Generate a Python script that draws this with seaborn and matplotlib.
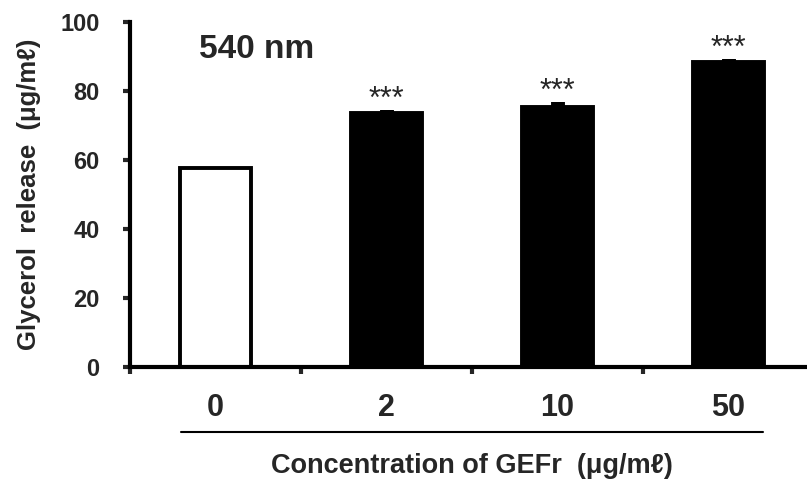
import numpy as np
import pandas as pd
import matplotlib
matplotlib.use("Agg")
import matplotlib.pyplot as plt
import matplotlib.transforms as mtransforms
import seaborn as sns

# data
conc_labels = ["0", "2", "10", "50"]
glycerol = [57.8, 73.6, 75.4, 88.4]
glycerol_err = [0.0, 0.9, 1.4, 0.9]
signif = ["", "***", "***", "***"]
bar_colors = ["white", "black", "black", "black"]

sns.set_style("white")
plt.rcParams["font.family"] = ["Liberation Sans", "DejaVu Sans"]

df = pd.DataFrame({"conc": conc_labels, "glycerol": glycerol})

fig = plt.figure(figsize=(8.07, 4.83), dpi=100)
ax = fig.add_axes([130 / 807, 116 / 483, 684 / 807, 345 / 483])

sns.barplot(data=df, x="conc", y="glycerol", hue="conc", palette=bar_colors,
            legend=False, width=0.42, edgecolor="black", linewidth=2.8,
            errorbar=None, ax=ax)

# upper-only error bars and significance marks
for i, (v, e, s) in enumerate(zip(glycerol, glycerol_err, signif)):
    if e > 0:
        ax.errorbar(i, v, yerr=[[0], [e]], fmt="none", ecolor="black",
                    elinewidth=10, capsize=0)
    if s:
        ax.text(i, v + e + 0.6, s, ha="center", va="baseline", fontsize=22)

ax.set_xlim(-0.5, 3.5)
ax.set_ylim(0, 100)
ax.set_yticks([0, 20, 40, 60, 80, 100])

for side in ["top", "right"]:
    ax.spines[side].set_visible(False)
for side in ["left", "bottom"]:
    ax.spines[side].set_linewidth(3)
    ax.spines[side].set_color("black")

ax.tick_params(axis="y", direction="out", length=5, width=3, left=True,
               labelsize=17, pad=17)
for lab in ax.get_yticklabels():
    lab.set_fontweight("bold")

ax.set_xticks([-0.5, 0.5, 1.5, 2.5], minor=True)
ax.tick_params(axis="x", which="minor", direction="out", length=5, width=3,
               bottom=True)
ax.tick_params(axis="x", which="major", length=0, pad=19, labelsize=22)
for lab in ax.get_xticklabels():
    lab.set_fontweight("bold")

# line under the concentration labels
trans = mtransforms.blended_transform_factory(ax.transData, ax.transAxes)
ax.plot([-0.2, 3.2], [-0.188, -0.188], color="black", lw=1.5,
        transform=trans, clip_on=False)

ax.set_xlabel("Concentration of GEFr  (\u03bcg/m\u2113)", fontsize=19.5,
              fontweight="bold", labelpad=21)
ax.set_ylabel("Glycerol  release  (\u03bcg/m\u2113)", fontsize=18.5,
              fontweight="bold", labelpad=14)

ax.text(0.24, 91.9, "540 nm", ha="center", va="center", fontsize=24,
        fontweight="bold")

fig.savefig("out.png", dpi=100)
